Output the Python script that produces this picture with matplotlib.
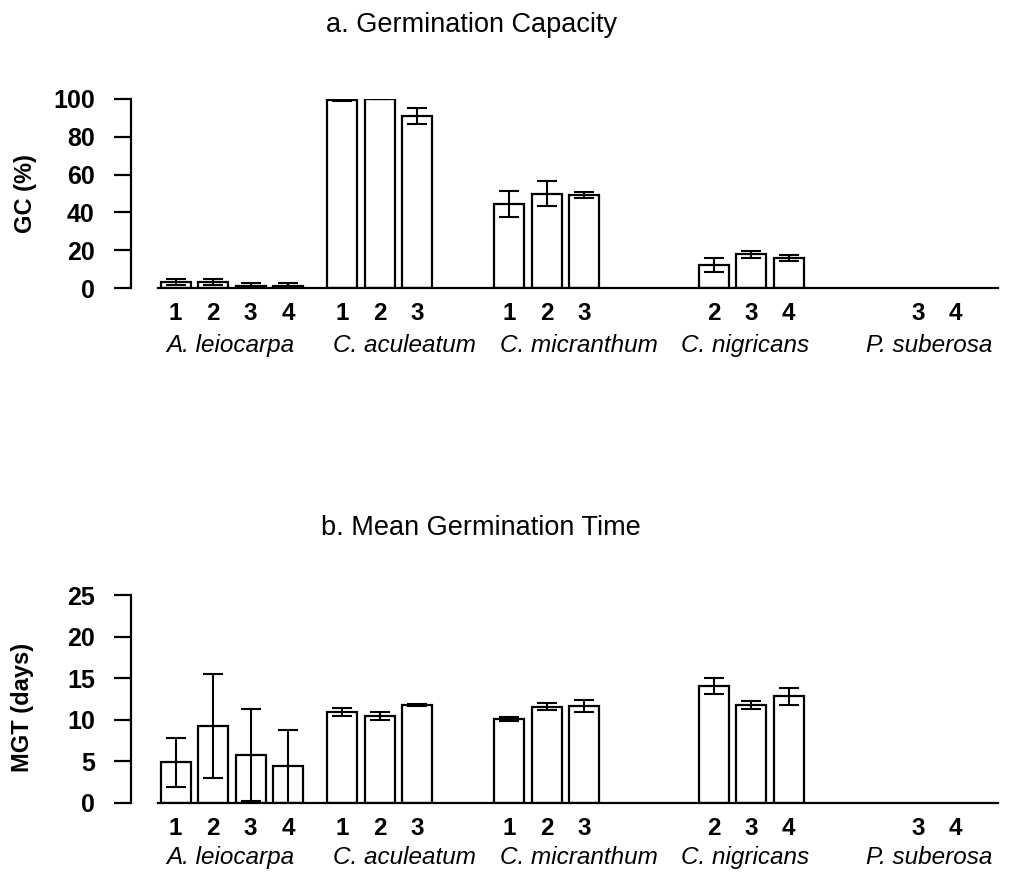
import numpy as np
import matplotlib.pyplot as plt

plt.rcParams['font.family'] = ['Liberation Sans', 'DejaVu Sans']

# --- data ---
species = ['A. leiocarpa', 'C. aculeatum', 'C. micranthum', 'C. nigricans', 'P. suberosa']
treatments = [[1, 2, 3, 4], [1, 2, 3], [1, 2, 3], [2, 3, 4], [3, 4]]

gc_mean = [[3.0, 3.0, 1.0, 1.0], [99.4, 100.0, 91.0], [44.5, 50.0, 49.2], [12.2, 17.8, 15.9], [0.0, 0.0]]
gc_err = [[1.5, 1.5, 1.5, 1.5], [0.6, 0.0, 4.0], [6.8, 6.6, 1.8], [3.6, 1.8, 1.4], [0.0, 0.0]]

mgt_mean = [[4.85, 9.25, 5.75, 4.4], [10.9, 10.45, 11.75], [10.05, 11.55, 11.65], [14.05, 11.8, 12.8], [0.0, 0.0]]
mgt_err = [[2.95, 6.3, 5.5, 4.4], [0.5, 0.5, 0.15], [0.25, 0.4, 0.75], [0.95, 0.5, 1.05], [0.0, 0.0]]

# layout
group_step = 4.45
bar_w = 0.8
label_x = [1.45, 6.1, 10.75, 15.2, 20.1]


def positions():
    xs, labs = [], []
    for g, tr in enumerate(treatments):
        for t in tr:
            xs.append(g * group_step + (t - 1))
            labs.append(str(t))
    return np.array(xs), labs


def panel(ax, means, errs, ymax, yticks, ylabel, species_y):
    xs, labs = positions()
    m = np.concatenate([np.array(v, dtype=float) for v in means])
    e = np.concatenate([np.array(v, dtype=float) for v in errs])
    show = m > 0
    ax.bar(xs[show], m[show], width=bar_w, color='white', edgecolor='black', linewidth=1.6, zorder=2)
    ax.errorbar(xs[show], m[show], yerr=e[show], fmt='none', ecolor='black',
                elinewidth=1.5, capsize=7, capthick=1.5, zorder=3)
    ax.set_xlim(-1.19, 21.99)
    ax.set_ylim(0, ymax)
    for s in ['top', 'right']:
        ax.spines[s].set_visible(False)
    ax.spines['left'].set_linewidth(1.6)
    ax.spines['left'].set_bounds(0, ymax)
    ax.spines['bottom'].set_linewidth(1.6)
    ax.spines['bottom'].set_bounds(-0.47, 21.93)
    ax.set_yticks(yticks)
    ax.set_yticklabels([str(v) for v in yticks], fontsize=18, fontweight='bold')
    ax.tick_params(axis='y', length=12, width=1.6, pad=14)
    ax.set_xticks(xs)
    ax.set_xticklabels(labs, fontsize=17.5, fontweight='bold')
    ax.tick_params(axis='x', length=0, pad=10)
    for g, name in enumerate(species):
        ax.text(label_x[g], species_y, name, transform=ax.get_xaxis_transform(),
                ha='center', va='center', fontsize=17.5, style='italic')
    ax.set_ylabel(ylabel, fontsize=17, fontweight='bold')


fig = plt.figure(figsize=(10.09, 8.73), dpi=100)
ax1 = fig.add_axes([0.1298, 0.6701, 0.8613, 0.2165])
ax2 = fig.add_axes([0.1298, 0.0805, 0.8613, 0.2379])

panel(ax1, gc_mean, gc_err, 100, [0, 20, 40, 60, 80, 100], 'GC (%)', -0.305)
panel(ax2, mgt_mean, mgt_err, 25, [0, 5, 10, 15, 20, 25], 'MGT (days)', -0.262)

ax1.yaxis.set_label_coords(-0.108, 0.5)
ax2.yaxis.set_label_coords(-0.112, 0.46)

fig.text(0.467, 0.971, 'a. Germination Capacity', ha='center', va='center', fontsize=19.5)
fig.text(0.477, 0.395, 'b. Mean Germination Time', ha='center', va='center', fontsize=19.5)

fig.savefig('out.png', dpi=100)
